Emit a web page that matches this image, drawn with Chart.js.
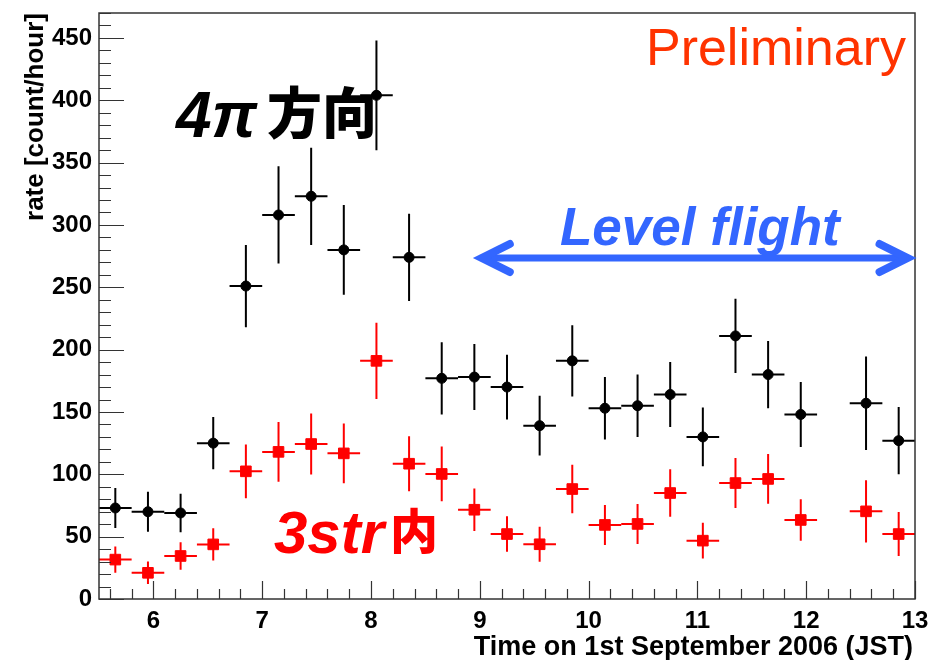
<!DOCTYPE html>
<html>
<head>
<meta charset="utf-8">
<script src="https://cdn.jsdelivr.net/npm/chart.js@4.4.1/dist/chart.umd.min.js"></script>
<style>
  html, body { margin: 0; padding: 0; background: #fff; }
  #wrap { width: 931px; height: 660px; }
</style>
</head>
<body>
<div id="wrap"><canvas id="rateChart" width="931" height="660"></canvas></div>
<script>
// bin centres (hour, JST), bin half width 0.15 h
const hours = [5.65, 5.95, 6.25, 6.55, 6.85, 7.15, 7.45, 7.75, 8.05, 8.35, 8.65, 8.95,
               9.25, 9.55, 9.85, 10.15, 10.45, 10.75, 11.05, 11.35, 11.65, 11.95, 12.55, 12.85];
const binHalf = 0.15;

// 4pi direction (black)
const rateAll = [73, 70, 69, 125, 251, 308, 323, 280, 404, 274, 177, 178,
                 170, 139, 191, 153, 155, 164, 130, 211, 180, 148, 157, 127];
const errAll = [16, 16, 15.5, 21, 33, 39, 39, 36, 44, 35, 29, 26.5,
                26, 24, 28.6, 25, 25, 26, 23.5, 29.8, 27, 26, 37.5, 27];

// inside 3 str (red)
const rate3str = [31.6, 21, 34.5, 43.8, 102.4, 118, 124.3, 116.8, 191, 108.5, 100.3, 71.6,
                  52.1, 43.9, 88.2, 59.4, 60.2, 85, 46.8, 93, 96.3, 63.4, 70.3, 52.1];
const err3str = [10.6, 9, 11, 13, 21.6, 24, 24.5, 24, 30.5, 22, 22, 17,
                 14.3, 14, 19.4, 16, 16, 19, 14.3, 20, 20, 16.7, 25, 17.7];

const xTicks = [6, 7, 8, 9, 10, 11, 12, 13];
const yTicks = [0, 50, 100, 150, 200, 250, 300, 350, 400, 450];
const levelFlight = [9.0, 12.95];   // hours

const HELV = '"Liberation Sans", Arial, sans-serif';
const CJK = '"Noto Sans CJK JP", "Noto Sans", sans-serif';

const toPoints = (ys, errs) => hours.map((h, i) => ({ x: h, y: ys[i], err: errs[i] }));

// error bars (ROOT style crosses)
const errorBars = {
    id: 'errorBars',
    beforeDatasetsDraw(chart) {
        const { ctx, scales: { x, y } } = chart;
        chart.data.datasets.forEach(ds => {
            ctx.save();
            ctx.strokeStyle = ds.borderColor;
            ctx.lineWidth = 2;
            ds.data.forEach(p => {
                const px = x.getPixelForValue(p.x);
                const py = y.getPixelForValue(p.y);
                ctx.beginPath();
                ctx.moveTo(px, y.getPixelForValue(p.y - p.err));
                ctx.lineTo(px, y.getPixelForValue(p.y + p.err));
                ctx.moveTo(x.getPixelForValue(p.x - binHalf), py);
                ctx.lineTo(x.getPixelForValue(p.x + binHalf), py);
                ctx.stroke();
            });
            ctx.restore();
        });
    }
};

// frame, inner ticks, titles, labels
const frame = {
    id: 'frame',
    afterDraw(chart) {
        const { ctx, chartArea: a, scales: { x, y } } = chart;
        ctx.save();
        ctx.strokeStyle = '#333';
        ctx.lineWidth = 1.5;
        ctx.strokeRect(a.left, a.top, a.right - a.left, a.bottom - a.top);

        ctx.lineWidth = 1.2;
        ctx.beginPath();
        for (let v = 0; v <= 470; v += 10) {
            const py = Math.round(y.getPixelForValue(v)) + 0.5;
            const len = v % 50 === 0 ? 25 : 12;
            ctx.moveTo(a.left, py);
            ctx.lineTo(a.left + len, py);
        }
        for (let k = 28; k <= 65; k++) {
            const v = k / 5;
            const px = Math.round(x.getPixelForValue(v)) + 0.5;
            const len = k % 5 === 0 ? 18 : 10;
            ctx.moveTo(px, a.bottom);
            ctx.lineTo(px, a.bottom - len);
        }
        ctx.stroke();

        // axis titles
        ctx.fillStyle = '#000';
        ctx.font = 'bold 27px ' + HELV;
        ctx.textAlign = 'right';
        ctx.textBaseline = 'alphabetic';
        ctx.fillText('Time on 1st September 2006 (JST)', 913, 655);

        ctx.font = 'bold 26px ' + HELV;
        ctx.translate(43, 13);
        ctx.rotate(-Math.PI / 2);
        ctx.fillText('rate [count/hour]', 0, 0);
        ctx.restore();

        // annotations
        ctx.save();
        ctx.textBaseline = 'alphabetic';
        ctx.textAlign = 'right';
        ctx.fillStyle = '#ff3300';
        ctx.font = '52px ' + HELV;
        ctx.fillText('Preliminary', 906, 65);

        ctx.textAlign = 'left';
        ctx.fillStyle = '#000';
        ctx.font = 'italic bold 64px ' + HELV;
        ctx.fillText('4π', 176, 137);
        ctx.font = '900 55px ' + CJK;
        ctx.fillText('方向', 267, 133);

        ctx.fillStyle = '#ff0000';
        ctx.font = 'italic bold 60px ' + HELV;
        ctx.fillText('3str', 274, 553);
        ctx.font = '900 48px ' + CJK;
        ctx.fillText('内', 390, 549);

        ctx.fillStyle = '#3366ff';
        ctx.font = 'italic bold 53px ' + HELV;
        ctx.fillText('Level flight', 560, 245);

        // level flight arrow
        const x1 = x.getPixelForValue(levelFlight[0]);
        const x2 = x.getPixelForValue(levelFlight[1]);
        const ay = 258;
        ctx.strokeStyle = '#3366ff';
        ctx.lineWidth = 7;
        ctx.beginPath();
        ctx.moveTo(x1 + 6, ay);
        ctx.lineTo(x2 - 6, ay);
        ctx.stroke();
        ctx.lineWidth = 8;
        ctx.lineCap = 'round';
        ctx.lineJoin = 'miter';
        ctx.beginPath();
        ctx.moveTo(x1 + 30, ay - 14);
        ctx.lineTo(x1 + 2, ay);
        ctx.lineTo(x1 + 30, ay + 14);
        ctx.moveTo(x2 - 30, ay - 14);
        ctx.lineTo(x2 - 2, ay);
        ctx.lineTo(x2 - 30, ay + 14);
        ctx.stroke();
        ctx.restore();
    }
};

new Chart(document.getElementById('rateChart').getContext('2d'), {
    type: 'scatter',
    data: {
        datasets: [
            {
                label: '4π方向',
                data: toPoints(rateAll, errAll),
                borderColor: '#000',
                backgroundColor: '#000',
                pointStyle: 'circle',
                pointRadius: 5,
                pointHoverRadius: 5
            },
            {
                label: '3str内',
                data: toPoints(rate3str, err3str),
                borderColor: '#ff0000',
                backgroundColor: '#ff0000',
                pointStyle: 'rect',
                pointRadius: 7.5,
                pointHoverRadius: 7.5
            }
        ]
    },
    options: {
        responsive: false,
        animation: false,
        layout: { padding: { left: 0, top: 13, right: 16, bottom: 0 } },
        plugins: { legend: { display: false }, tooltip: { enabled: false } },
        scales: {
            x: {
                type: 'linear',
                min: 5.5,
                max: 13,
                grid: { display: false, drawTicks: false },
                border: { display: false },
                afterBuildTicks: s => { s.ticks = xTicks.map(v => ({ value: v })); },
                afterFit: s => { s.height = 61; s.paddingLeft = 0; s.paddingRight = 0; },
                ticks: {
                    padding: 8,
                    color: '#000',
                    font: { family: HELV, size: 24, weight: 'bold' },
                    maxRotation: 0
                }
            },
            y: {
                min: 0,
                max: 470,
                grid: { display: false, drawTicks: false },
                border: { display: false },
                afterBuildTicks: s => { s.ticks = yTicks.map(v => ({ value: v })); },
                afterFit: s => { s.width = 99; s.paddingTop = 0; s.paddingBottom = 0; },
                ticks: {
                    padding: 7,
                    color: '#000',
                    font: { family: HELV, size: 24, weight: 'bold' }
                }
            }
        }
    },
    plugins: [errorBars, frame]
});
</script>
</body>
</html>
